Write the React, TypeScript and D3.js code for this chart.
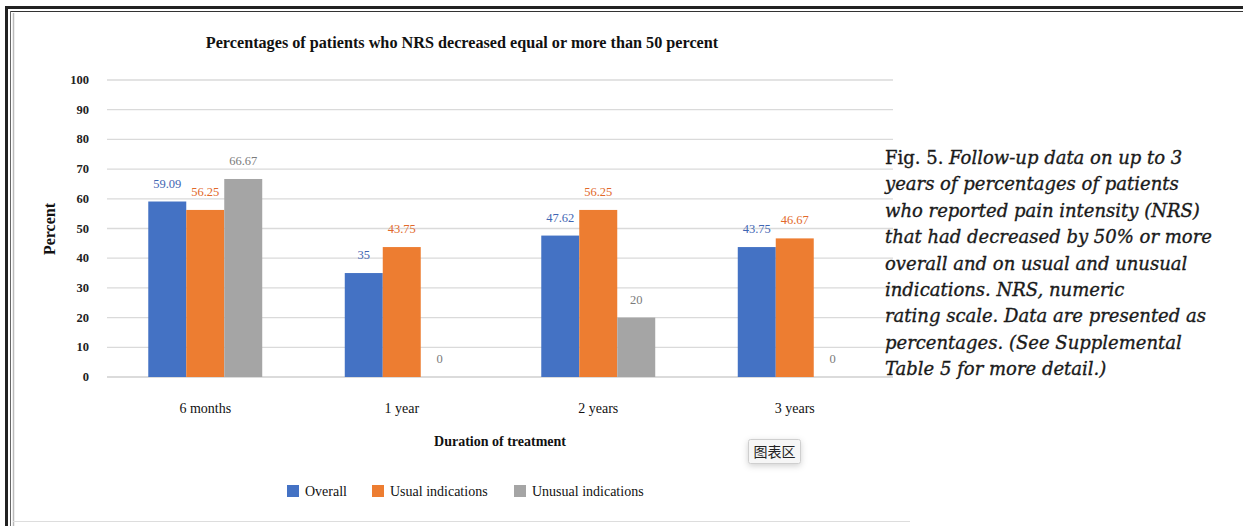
import React from "react";
import * as d3 from "d3";

const categories = ["6 months", "1 year", "2 years", "3 years"];
const seriesNames = ["Overall", "Usual indications", "Unusual indications"];
const overall = [59.09, 35, 47.62, 43.75];
const usual = [56.25, 43.75, 56.25, 46.67];
const unusual = [66.67, 0, 20, 0];
const yTicks = [0, 10, 20, 30, 40, 50, 60, 70, 80, 90, 100];
const captionLines = [
  "Follow-up data on up to 3",
  "years of percentages of patients",
  "who reported pain intensity (NRS)",
  "that had decreased by 50% or more",
  "overall and on usual and unusual",
  "indications. NRS, numeric",
  "rating scale. Data are presented as",
  "percentages. (See Supplemental",
  "Table 5 for more detail.)",
];

const seriesValues = [overall, usual, unusual];
const fills = ["#4472C4", "#ED7D31", "#A5A5A5"];
const labelColors = ["#3F66B3", "#E2692A", "#7B7B7B"];

const W = 1243;
const H = 526;
const serif = "'Liberation Serif', 'Times New Roman', serif";
const captionFont = "'DejaVu Serif', 'Liberation Serif', serif";

export default function App() {
  const x0 = d3
    .scaleBand<string>()
    .domain(categories)
    .range([107, 893])
    .paddingInner(0.42)
    .paddingOuter(0.21);
  const x1 = d3
    .scaleBand<string>()
    .domain(seriesNames)
    .range([0, x0.bandwidth()]);
  const y = d3.scaleLinear().domain([0, 100]).range([377, 80]);

  const legendItems = [
    { name: seriesNames[0], x: 287 },
    { name: seriesNames[1], x: 372 },
    { name: seriesNames[2], x: 514 },
  ];

  return (
    <div style={{ position: "absolute", left: 0, top: 0 }}>
      <svg width={W} height={H} style={{ display: "block" }}>
        <defs>
          <filter id="tipShadow" x="-40%" y="-60%" width="180%" height="240%">
            <feDropShadow dx="0" dy="2" stdDeviation="3" floodColor="#000" floodOpacity="0.18" />
          </filter>
        </defs>
        <rect x={0} y={0} width={W} height={H} fill="#fff" />

        {/* page frame */}
        <rect x={5} y={6} width={W - 5} height={3} fill="#222" />
        <rect x={5} y={6} width={3} height={H - 6} fill="#222" />
        <line x1={10} y1={11.5} x2={W} y2={11.5} stroke="#333" strokeWidth={1} />
        <line x1={10.5} y1={11} x2={10.5} y2={H} stroke="#666" strokeWidth={1} />
        <line x1={13.5} y1={13} x2={13.5} y2={H} stroke="#bbb" strokeWidth={1.5} />
        <line x1={13} y1={521.5} x2={910} y2={521.5} stroke="#ddd" strokeWidth={1.2} />

        {/* title */}
        <text
          x={462}
          y={48}
          textAnchor="middle"
          fontFamily={serif}
          fontWeight="bold"
          fontSize={16.2}
          fill="#111"
        >
          Percentages of patients who NRS decreased equal or more than 50 percent
        </text>

        {/* gridlines and y ticks */}
        {yTicks.map((t) => (
          <g key={t}>
            <line
              x1={107}
              x2={893}
              y1={y(t)}
              y2={y(t)}
              stroke={t === 0 ? "#cfcfcf" : "#dadada"}
              strokeWidth={1.3}
            />
            <text
              x={89}
              y={y(t) + 4}
              textAnchor="end"
              fontFamily={serif}
              fontWeight="bold"
              fontSize={12.5}
              fill="#222"
            >
              {t}
            </text>
          </g>
        ))}

        {/* bars */}
        {categories.map((c, ci) => (
          <g key={c} transform={`translate(${x0(c)},0)`}>
            {seriesNames.map((s, si) => {
              const v = seriesValues[si][ci];
              const bx = x1(s)!;
              return (
                <g key={s}>
                  {v > 0 && (
                    <rect
                      x={bx}
                      y={y(v)}
                      width={x1.bandwidth()}
                      height={y(0) - y(v)}
                      fill={fills[si]}
                    />
                  )}
                  <text
                    x={bx + x1.bandwidth() / 2}
                    y={y(v) - 14}
                    textAnchor="middle"
                    fontFamily={serif}
                    fontSize={12.5}
                    fill={labelColors[si]}
                  >
                    {v}
                  </text>
                </g>
              );
            })}
          </g>
        ))}

        {/* category labels */}
        {categories.map((c) => (
          <text
            key={c}
            x={x0(c)! + x0.bandwidth() / 2}
            y={413}
            textAnchor="middle"
            fontFamily={serif}
            fontSize={14}
            fill="#111"
          >
            {c}
          </text>
        ))}

        {/* axis titles */}
        <text
          x={500}
          y={446}
          textAnchor="middle"
          fontFamily={serif}
          fontWeight="bold"
          fontSize={14}
          fill="#111"
        >
          Duration of treatment
        </text>
        <text
          transform="translate(55,229) rotate(-90)"
          textAnchor="middle"
          fontFamily={serif}
          fontWeight="bold"
          fontSize={16}
          fill="#111"
        >
          Percent
        </text>

        {/* legend */}
        {legendItems.map((it, i) => (
          <g key={it.name}>
            <rect x={it.x} y={485} width={12} height={12} fill={fills[i]} />
            <text
              x={it.x + 18}
              y={496}
              fontFamily={serif}
              fontSize={14}
              fill="#111"
            >
              {it.name}
            </text>
          </g>
        ))}

        {/* chart-area tooltip */}
        <g filter="url(#tipShadow)">
          <rect x={748.5} y={439.5} width={52} height={24} rx={2} fill="#f6f6f6" stroke="#cfcfcf" />
        </g>
        <text
          x={774.5}
          y={457}
          textAnchor="middle"
          fontFamily="'Noto Sans CJK SC', sans-serif"
          fontSize={14}
          fill="#222"
        >
          图表区
        </text>

        {/* figure caption */}
        <text
          fontFamily={captionFont}
          fontSize={18}
          fill="#1a1a1a"
          stroke="#1a1a1a"
          strokeWidth={0.35}
        >
          {captionLines.map((line, i) => (
            <tspan key={i} x={885} y={164 + i * 26.4}>
              {i === 0 ? (
                <>
                  <tspan fontStyle="normal">Fig. 5. </tspan>
                  <tspan fontStyle="italic">{line}</tspan>
                </>
              ) : (
                <tspan fontStyle="italic">{line}</tspan>
              )}
            </tspan>
          ))}
        </text>
      </svg>
    </div>
  );
}
